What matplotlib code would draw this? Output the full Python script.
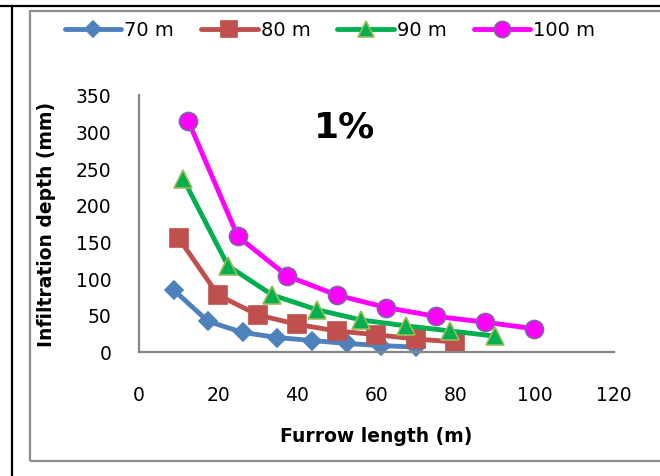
import matplotlib
matplotlib.use("Agg")
import matplotlib.pyplot as plt
from matplotlib.lines import Line2D
from matplotlib.patches import Rectangle

plt.rcParams['font.family'] = ['DejaVu Sans']

# Data
series_labels = ["70 m", "80 m", "90 m", "100 m"]
x70 = [8.75, 17.5, 26.25, 35, 43.75, 52.5, 61.25, 70]
x80 = [10, 20, 30, 40, 50, 60, 70, 80]
x90 = [11.25, 22.5, 33.75, 45, 56.25, 67.5, 78.75, 90]
x100 = [12.5, 25, 37.5, 50, 62.5, 75, 87.5, 100]
y70 = [84, 41, 26, 19, 15, 11, 8, 6]
y80 = [155, 77, 50, 37, 28, 23, 17, 13]
y90 = [235, 117, 77, 57, 43, 35, 28, 21]
y100 = [314, 157, 103, 77, 60, 48, 40, 31]
x_ticks = [0, 20, 40, 60, 80, 100, 120]
y_ticks = [0, 50, 100, 150, 200, 250, 300, 350]

W, H = 660, 477
fig = plt.figure(figsize=(W / 100, H / 100), dpi=100)

# surrounding table lines and chart border
fig.add_artist(Line2D([0, 1], [1 - 7 / H, 1 - 7 / H], transform=fig.transFigure, color='black', lw=1.6))
fig.add_artist(Line2D([12 / W, 12 / W], [0, 1 - 7 / H], transform=fig.transFigure, color='black', lw=1.6))
fig.add_artist(Rectangle((30 / W, 1 - 462 / H), 1.0, (462 - 12) / H, transform=fig.transFigure,
                         fill=False, edgecolor='#8c8c8c', lw=1.6))

ax = fig.add_axes([139 / W, 1 - 352.5 / H, 474.5 / W, 256.5 / H])

styles = [
    dict(color='#4F81BD', marker='D', ms=9.5, mfc='#4F81BD', mec='#4F81BD'),
    dict(color='#C0504D', marker='s', ms=13, mfc='#C0504D', mec='#C0504D'),
    dict(color='#00B050', marker='^', ms=13, mfc='#00B050', mec='#9BBB59'),
    dict(color='#FF00FF', marker='o', ms=13, mfc='#FF00FF', mec='#8064A2'),
]
xs = [x70, x80, x90, x100]
ys = [y70, y80, y90, y100]
handles = []
for xv, yv, st, lab in zip(xs, ys, styles, series_labels):
    h, = ax.plot(xv, yv, lw=3.5, mew=1.2, label=lab, clip_on=False,
                 solid_joinstyle='round', solid_capstyle='round', **st)
    handles.append(h)

ax.set_xlim(0, 120)
ax.set_ylim(0, 350)
ax.set_xticks(x_ticks)
ax.set_yticks(y_ticks)
for s in ['top', 'right']:
    ax.spines[s].set_visible(False)
for s in ['left', 'bottom']:
    ax.spines[s].set_color('#868686')
    ax.spines[s].set_linewidth(1.6)
ax.tick_params(axis='both', length=0, labelsize=13.5)
ax.tick_params(axis='x', pad=24)
ax.tick_params(axis='y', pad=20)

ax.set_xlabel('Furrow length (m)', fontsize=13.5, fontweight='bold', labelpad=16)
ax.set_ylabel('Infiltration depth (mm)', fontsize=13.5, fontweight='bold')
ax.yaxis.set_label_coords((56 - 139) / 474.5, 0.5)

fig.text(345 / W, 1 - 127 / H, '1%', fontsize=26, fontweight='bold', ha='center', va='center')

fig.legend(handles=handles, loc='center', bbox_to_anchor=(330 / W, 1 - 31 / H), ncol=4,
           frameon=False, fontsize=14, handlelength=2.9, handletextpad=0.15,
           columnspacing=1.4, markerscale=0.9)

fig.savefig('out.png', dpi=100)
